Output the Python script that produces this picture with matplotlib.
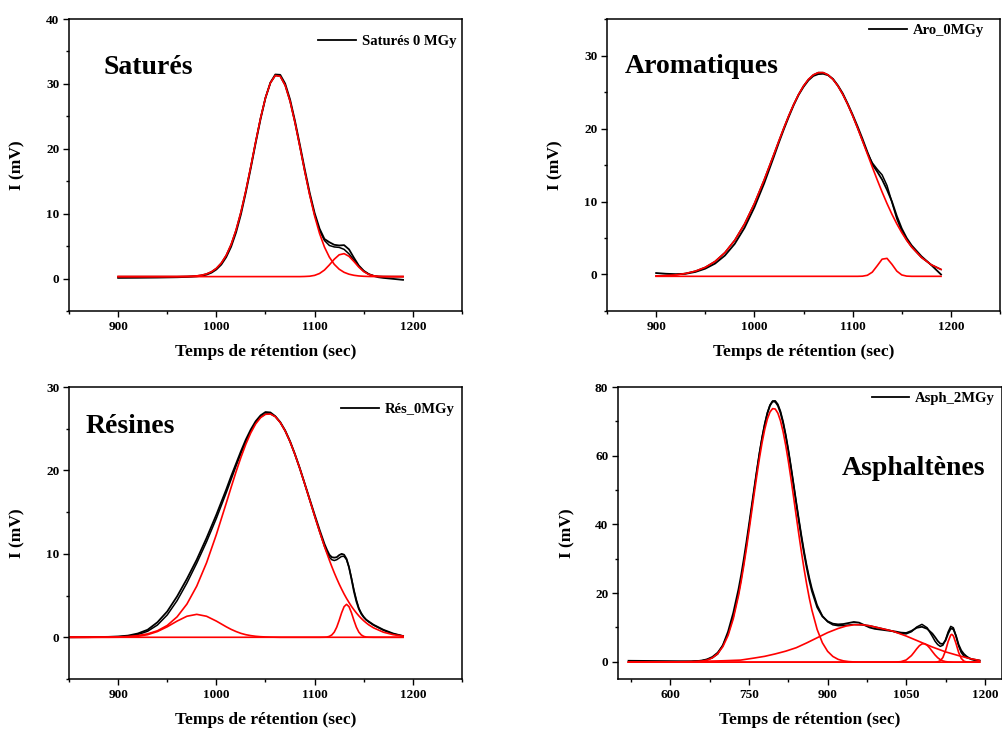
import matplotlib
matplotlib.use('Agg')
import matplotlib.pyplot as plt
from matplotlib.ticker import MultipleLocator

plt.rcParams['font.family'] = ['Liberation Serif', 'DejaVu Serif']
plt.rcParams['font.weight'] = 'bold'
plt.rcParams['axes.labelweight'] = 'bold'

# ---------------- Saturés ----------------
sat_t = [900, 920, 940, 960] + list(range(970, 1175, 5)) + [1180, 1190]
sat_mes = [0.10, 0.12, 0.15, 0.20,
           0.25, 0.28, 0.33, 0.43, 0.60, 0.90,
           1.40, 2.15, 3.30, 4.90, 7.10, 9.90, 13.30, 17.00, 20.90, 24.60,
           27.85, 30.20, 31.45, 31.40, 30.05, 27.60, 24.30, 20.60, 16.80, 13.20,
           10.10, 7.70, 6.10, 5.60, 5.20, 5.10, 5.15, 4.50, 3.20, 2.00,
           1.20, 0.70, 0.40, 0.20, 0.10,
           -0.05, -0.20]
sat_fit = [0.30, 0.30, 0.30, 0.30,
           0.33, 0.36, 0.41, 0.52, 0.71, 1.04,
           1.57, 2.38, 3.57, 5.24, 7.46, 10.25, 13.55, 17.24, 21.08, 24.75,
           27.88, 30.16, 31.30, 31.17, 29.79, 27.32, 24.04, 20.32, 16.50, 12.92,
           9.83, 7.44, 5.87, 5.10, 4.87, 4.80, 4.50, 3.80, 2.83, 1.86,
           1.12, 0.66, 0.44, 0.34, 0.31,
           0.30, 0.30]
sat_p1 = [0.30, 0.30, 0.30, 0.30,
          0.33, 0.36, 0.41, 0.52, 0.71, 1.04,
          1.57, 2.38, 3.57, 5.24, 7.46, 10.25, 13.55, 17.24, 21.08, 24.75,
          27.88, 30.16, 31.30, 31.17, 29.79, 27.32, 24.04, 20.32, 16.48, 12.86,
          9.64, 6.96, 4.86, 3.30, 2.19, 1.44, 0.96, 0.67, 0.50, 0.40,
          0.35, 0.32, 0.31, 0.30, 0.30,
          0.30, 0.30]
sat_p2 = [0.30, 0.30, 0.30, 0.30,
          0.30, 0.30, 0.30, 0.30, 0.30, 0.30,
          0.30, 0.30, 0.30, 0.30, 0.30, 0.30, 0.30, 0.30, 0.30, 0.30,
          0.30, 0.30, 0.30, 0.30, 0.30, 0.30, 0.30, 0.30, 0.32, 0.36,
          0.49, 0.78, 1.31, 2.10, 2.98, 3.66, 3.84, 3.43, 2.63, 1.76,
          1.07, 0.64, 0.43, 0.34, 0.31,
          0.30, 0.30]

# ---------------- Aromatiques ----------------
aro_t = list(range(900, 1020, 10)) + list(range(1020, 1165, 5)) + [1170, 1180, 1190]
aro_mes = [0.20, 0.10, 0.05, 0.10, 0.35, 0.80, 1.50, 2.60, 4.20, 6.40, 9.20, 12.50,
           16.20, 18.10, 19.90, 21.60, 23.20, 24.60, 25.70, 26.60, 27.20, 27.45,
           27.50, 27.30, 26.80, 25.90, 24.80, 23.40, 21.90, 20.30, 18.60,
           16.80, 15.10, 14.10, 13.00, 11.60, 10.00, 8.00, 6.30, 5.00, 4.00,
           2.50, 1.30, 0.00]
aro_fit = [-0.20, -0.15, -0.05, 0.14, 0.46, 0.98, 1.79, 3.00, 4.69, 6.93, 9.72, 12.98,
           16.52, 18.32, 20.08, 21.76, 23.30, 24.67, 25.83, 26.73, 27.35, 27.66,
           27.66, 27.35, 26.73, 25.83, 24.67, 23.30, 21.76, 20.08, 18.34,
           16.66, 15.30, 14.42, 13.65, 12.18, 9.91, 7.64, 5.93, 4.72, 3.78,
           2.34, 1.34, 0.69]
aro_p1 = [-0.20, -0.15, -0.05, 0.14, 0.46, 0.98, 1.79, 3.00, 4.69, 6.93, 9.72, 12.98,
          16.52, 18.32, 20.08, 21.76, 23.30, 24.67, 25.83, 26.73, 27.35, 27.66,
          27.66, 27.35, 26.73, 25.83, 24.67, 23.30, 21.76, 20.08, 18.32,
          16.52, 14.73, 12.98, 11.30, 9.72, 8.26, 6.93, 5.74, 4.69, 3.78,
          2.34, 1.34, 0.69]
aro_p2 = [-0.25, -0.25, -0.25, -0.25, -0.25, -0.25, -0.25, -0.25, -0.25, -0.25, -0.25, -0.25,
          -0.25, -0.25, -0.25, -0.25, -0.25, -0.25, -0.25, -0.25, -0.25, -0.25,
          -0.25, -0.25, -0.25, -0.25, -0.25, -0.25, -0.25, -0.25, -0.23,
          -0.11, 0.32, 1.19, 2.10, 2.21, 1.40, 0.46, -0.06, -0.22, -0.25,
          -0.25, -0.25, -0.25]

# ---------------- Résines ----------------
res_t = [850, 870, 890] + list(range(900, 1015, 10)) + list(range(1015, 1105, 5)) + [1105] + \
        [1110, 1112.5, 1115, 1117.5, 1120, 1122.5, 1125, 1127.5, 1130, 1132.5,
         1135, 1137.5, 1140, 1142.5, 1145, 1147.5, 1150, 1152.5] + \
        [1155, 1160, 1170, 1180, 1190]
res_mes = [0.00, 0.02, 0.05,
           0.10, 0.20, 0.45, 0.90, 1.80, 3.10, 4.90, 7.00, 9.30, 11.90, 14.70, 17.70,
           19.30, 20.80, 22.30, 23.70, 24.90, 25.90, 26.60, 27.00, 26.95, 26.50,
           25.80, 24.80, 23.50, 21.95, 20.25, 18.40, 16.55, 14.70,
           12.90,
           11.20, 10.50, 9.90, 9.60, 9.55, 9.60, 9.85, 10.00, 9.90, 9.40,
           8.40, 7.00, 5.50, 4.30, 3.40, 2.80, 2.40, 2.10,
           1.90, 1.50, 0.90, 0.45, 0.15]
res_fit = [0.00, 0.00, 0.02,
           0.05, 0.13, 0.32, 0.72, 1.47, 2.68, 4.39, 6.50, 8.88, 11.45, 14.26, 17.32,
           18.92, 20.52, 22.04, 23.46, 24.70, 25.70, 26.40, 26.77, 26.79, 26.45,
           25.75, 24.74, 23.44, 21.90, 20.19, 18.35, 16.45, 14.54,
           12.68,
           10.91, 10.20, 9.60, 9.30, 9.20, 9.30, 9.50, 9.70, 9.70, 9.30,
           8.40, 7.10, 5.70, 4.50, 3.50, 2.90, 2.45, 2.10,
           1.85, 1.45, 0.85, 0.40, 0.15]
res_p1 = [0.00, 0.00, 0.02,
          0.04, 0.09, 0.20, 0.41, 0.78, 1.42, 2.45, 3.98, 6.13, 8.93, 12.32, 16.06,
          17.97, 19.83, 21.57, 23.15, 24.50, 25.58, 26.33, 26.73, 26.77, 26.44,
          25.75, 24.74, 23.44, 21.90, 20.19, 18.35, 16.45, 14.54,
          12.68,
          10.90, 10.06, 9.25, 8.47, 7.73, 7.04, 6.38, 5.77, 5.19, 4.66,
          4.17, 3.71, 3.30, 2.92, 2.57, 2.26, 1.98, 1.73,
          1.50, 1.13, 0.61, 0.31, 0.15]
res_p2 = [0.00, 0.00, 0.00,
          0.01, 0.04, 0.12, 0.31, 0.69, 1.26, 1.94, 2.52, 2.75, 2.52, 1.94, 1.26,
          0.95, 0.69, 0.47, 0.31, 0.20, 0.12, 0.07, 0.04, 0.02, 0.01,
          0.00, 0.00, 0.00, 0.00, 0.00, 0.00, 0.00, 0.00,
          0.00,
          0.00, 0.00, 0.00, 0.00, 0.00, 0.00, 0.00, 0.00, 0.00, 0.00,
          0.00, 0.00, 0.00, 0.00, 0.00, 0.00, 0.00, 0.00,
          0.00, 0.00, 0.00, 0.00, 0.00]
res_p3 = [0.00, 0.00, 0.00,
          0.00, 0.00, 0.00, 0.00, 0.00, 0.00, 0.00, 0.00, 0.00, 0.00, 0.00, 0.00,
          0.00, 0.00, 0.00, 0.00, 0.00, 0.00, 0.00, 0.00, 0.00, 0.00,
          0.00, 0.00, 0.00, 0.00, 0.00, 0.00, 0.00, 0.00,
          0.00,
          0.01, 0.03, 0.11, 0.28, 0.62, 1.21, 2.03, 2.94, 3.67, 3.95,
          3.67, 2.94, 2.03, 1.21, 0.62, 0.28, 0.11, 0.03,
          0.01, 0.00, 0.00, 0.00, 0.00]

# ---------------- Asphaltènes ----------------
asp_t = [520, 560, 600, 640, 660, 670, 680, 690, 700, 710, 720] + \
        list(range(730, 875, 5)) + list(range(880, 1101, 10)) + \
        list(range(1105, 1180, 5)) + [1180, 1190]
asp_mes = [0.30, 0.25, 0.20, 0.15, 0.30, 0.60, 1.20, 2.30, 4.80, 8.80, 14.30,
           21.20, 25.30, 29.90, 34.80, 40.00, 45.30, 50.60, 55.80, 60.80, 65.20,
           69.00, 72.30, 74.60, 75.80, 75.70, 74.60, 72.50, 69.50, 65.70, 61.30,
           56.40, 51.30, 46.10, 41.00, 36.10, 31.50, 27.40, 23.70, 20.60,
           15.90, 13.20, 11.80, 11.10, 10.90, 11.00, 11.30, 11.60, 11.40, 10.70,
           10.00, 9.60, 9.40, 9.20, 9.00, 8.80, 8.50, 8.40, 9.00, 9.90, 10.20,
           9.60, 8.20,
           7.20, 6.10, 5.30, 5.20, 6.20, 8.20, 9.70, 9.50, 7.60, 5.00, 3.30,
           2.30, 1.60, 1.10, 0.70,
           0.50, 0.30]
asp_fit = [-0.10, -0.08, -0.05, 0.10, 0.40, 0.77, 1.46, 2.70, 4.80, 8.13, 13.10,
           19.94, 24.10, 28.77, 33.81, 39.19, 44.73, 50.28, 55.72, 60.85, 65.47,
           69.41, 72.57, 74.78, 75.94, 76.00, 75.00, 72.98, 70.01, 66.24, 61.88,
           57.05, 51.94, 46.74, 41.70, 36.85, 32.32, 28.19, 24.55, 21.39,
           16.52, 13.39, 11.65, 10.76, 10.52, 10.55, 10.70, 10.87, 10.80, 10.70,
           10.50, 10.15, 9.80, 9.45, 9.10, 8.62, 8.20, 8.14, 8.77, 10.13, 10.91,
           9.91, 7.37,
           6.01, 5.04, 4.49, 4.83, 6.40, 8.71, 10.32, 9.91, 7.51, 4.65, 2.70,
           1.71, 1.26, 1.00, 0.85,
           0.70, 0.40]
asp_p1_t = [520, 640, 660, 670, 680, 690, 700, 710, 720] + list(range(730, 875, 5)) + \
           [880, 890, 900, 910, 920, 930, 940, 950, 960, 1190]
asp_p1 = [-0.10, -0.05, 0.18, 0.51, 1.16, 2.35, 4.40, 7.68, 12.57,
          19.34, 23.45, 28.02, 32.96, 38.21, 43.63, 49.08, 54.39, 59.40, 63.89,
          67.71, 70.70, 72.73, 73.71, 73.60, 72.40, 70.18, 67.01, 63.04, 58.43,
          53.35, 47.99, 42.54, 37.15, 31.95, 27.07, 22.59, 18.57, 15.04,
          9.42, 5.54, 3.05, 1.56, 0.72, 0.28, 0.07, -0.03, -0.10, -0.10]
asp_p2_t = [520, 600, 650, 700, 734, 760, 780, 800, 820, 840, 860, 880, 900, 920,
            935, 950, 965, 980, 1000, 1025, 1050, 1075, 1100, 1125, 1150, 1170, 1190]
asp_p2 = [-0.10, -0.05, 0.10, 0.30, 0.50, 1.10, 1.60, 2.30, 3.10, 4.10, 5.50, 7.00,
          8.50, 9.70, 10.40, 10.78, 10.80, 10.50, 9.80, 8.90, 7.50, 5.90, 4.30,
          2.90, 1.80, 1.00, 0.40]
asp_p3_t = [520, 1020, 1030, 1040, 1050, 1060, 1065, 1070, 1075, 1080, 1085, 1090,
            1095, 1100, 1105, 1110, 1115, 1120, 1125, 1130, 1140, 1190]
asp_p3 = [-0.10, -0.10, -0.08, 0.05, 0.54, 1.82, 2.77, 3.78, 4.67, 5.21, 5.26, 4.81,
          3.98, 2.97, 2.00, 1.20, 0.63, 0.27, 0.07, -0.03, -0.10, -0.10]
asp_p4_t = [520, 1105, 1110, 1115, 1120, 1125, 1130, 1135, 1137, 1140, 1145, 1150,
            1155, 1160, 1165, 1170, 1190]
asp_p4 = [-0.10, -0.09, -0.01, 0.31, 1.26, 3.23, 5.89, 7.80, 8.00, 7.56, 5.36, 2.75,
          1.00, 0.21, -0.04, -0.10, -0.10]


def draw_panel(ax, t, mes, fit, peaks, label, title, title_pos, leg_pos,
               xlim, ylim, xstep, ystep):
    ax.plot(t, mes, color='black', lw=1.3, label=label)
    ax.plot(t, fit, color='black', lw=1.1)
    for px, py in peaks:
        ax.plot(px, py, color='red', lw=1.2)

    ax.set_xlim(*xlim)
    ax.set_ylim(*ylim)
    ax.xaxis.set_major_locator(MultipleLocator(xstep))
    ax.xaxis.set_minor_locator(MultipleLocator(xstep / 2))
    ax.yaxis.set_major_locator(MultipleLocator(ystep))
    ax.yaxis.set_minor_locator(MultipleLocator(ystep / 2))
    ax.tick_params(which='both', direction='out', top=False, right=False,
                   labelsize=9.5, width=1.0, pad=3)
    ax.tick_params(which='major', length=4)
    ax.tick_params(which='minor', length=2.5)
    for s in ax.spines.values():
        s.set_linewidth(1.1)

    ax.set_xlabel('Temps de rétention (sec)', fontsize=12.5, labelpad=8)
    ax.set_ylabel('I (mV)', fontsize=12.5)
    ax.yaxis.set_label_coords(-0.112, 0.5)

    ax.text(title_pos[0], title_pos[1], title, transform=ax.transAxes,
            fontsize=20, fontweight='bold', ha='left', va='baseline')
    ax.legend(loc='upper right', bbox_to_anchor=leg_pos, frameon=False,
              fontsize=10.5, handlelength=2.6, handletextpad=0.4,
              borderpad=0, borderaxespad=0)


fig = plt.figure(figsize=(10.03, 7.29), dpi=100)
ax1 = fig.add_axes([0.0688, 0.5734, 0.3918, 0.4005])
ax2 = fig.add_axes([0.6052, 0.5734, 0.3918, 0.4005])
ax3 = fig.add_axes([0.0688, 0.0686, 0.3918, 0.4005])
ax4 = fig.add_axes([0.6162, 0.0686, 0.3829, 0.4005])

draw_panel(ax1, sat_t, sat_mes, sat_fit,
           [(sat_t, sat_p1), (sat_t, sat_p2)],
           'Saturés 0 MGy', 'Saturés', (0.089, 0.812), (0.985, 0.945),
           (850, 1250), (-5, 40), 100, 10)
draw_panel(ax2, aro_t, aro_mes, aro_fit,
           [(aro_t, aro_p1), (aro_t, aro_p2)],
           'Aro_0MGy', 'Aromatiques', (0.046, 0.814), (0.959, 0.985),
           (850, 1250), (-5, 35), 100, 10)
draw_panel(ax3, res_t, res_mes, res_fit,
           [(res_t, res_p1), (res_t, res_p2), (res_t, res_p3)],
           'Rés_0MGy', 'Résines', (0.043, 0.8435), (0.982, 0.945),
           (850, 1250), (-5, 30), 100, 10)
draw_panel(ax4, asp_t, asp_mes, asp_fit,
           [(asp_p1_t, asp_p1), (asp_p2_t, asp_p2), (asp_p3_t, asp_p3),
            (asp_p4_t, asp_p4)],
           'Asph_2MGy', 'Asphaltènes', (0.583, 0.699), (0.982, 0.985),
           (500, 1233), (-5, 80), 150, 20)

fig.savefig('out.png', dpi=100)
